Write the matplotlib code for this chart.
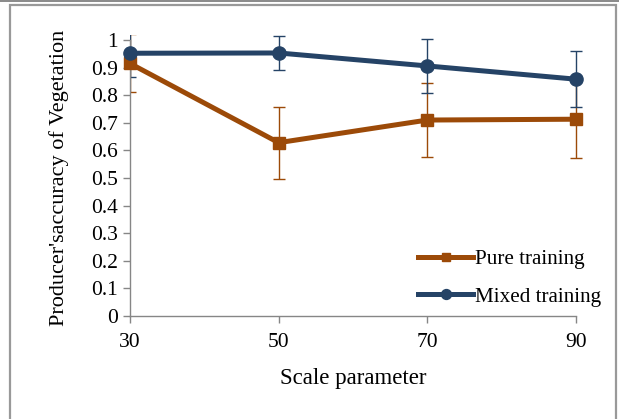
import matplotlib
matplotlib.use("Agg")
import matplotlib.pyplot as plt
from matplotlib.patches import Rectangle
from matplotlib.ticker import FormatStrFormatter

############################################################
# data
scale = [30, 50, 70, 90]

pure = [0.915, 0.628, 0.710, 0.713]
pure_err = [0.105, 0.131, 0.133, 0.142]

mixed = [0.952, 0.953, 0.906, 0.858]
mixed_err = [0.086, 0.062, 0.097, 0.102]

y_ticks = [0, 0.1, 0.2, 0.3, 0.4, 0.5, 0.6, 0.7, 0.8, 0.9, 1]

ORANGE = '#9c4a08'
BLUE = '#254366'
GRAY = '#868686'

############################################################
plt.rcParams['font.family'] = ['Liberation Serif', 'DejaVu Serif']

fig = plt.figure(figsize=(6.19, 4.19), dpi=100)
W, H = 619, 419

#outer frame of the chart area (pixel coords)
def px_rect(x, y, w, h, **kw):
    r = Rectangle((x / W, 1 - (y + h) / H), w / W, h / H,
                  transform=fig.transFigure, **kw)
    fig.patches.append(r)

px_rect(0, 0, W, 2.5, facecolor='#8c8c8c', edgecolor='none')
px_rect(10, 5, 606, 420, facecolor='none', edgecolor='#999999', linewidth=1.6)

ax = fig.add_axes([130 / W, 1 - 316 / H, (576 - 130) / W, (316 - 40) / H])

#plot area of excel reaches a bit above 1, error bars are clipped to it
clip = Rectangle((0, 0), 1.1, 1.017, transform=ax.transAxes,
                 facecolor='none', edgecolor='none')

#error bars first, lines on top
for vals, errs, col in [(pure, pure_err, ORANGE), (mixed, mixed_err, BLUE)]:
    eb = ax.errorbar(scale, vals, yerr=errs, fmt='none', ecolor=col,
                     elinewidth=1.0, capsize=4.5, capthick=1.0)
    for art in eb.lines[1] + eb.lines[2]:
        art.set_clip_path(clip)

ax.plot(scale, pure, color=ORANGE, lw=3.6, marker='s', ms=8.5,
        label='Pure training', clip_on=False, zorder=3)
ax.plot(scale, mixed, color=BLUE, lw=3.6, marker='o', ms=9.5,
        label='Mixed training', clip_on=False, zorder=4)

ax.set_xlim(30, 90)
ax.set_ylim(0, 1)
ax.set_xticks(scale)
ax.set_yticks(y_ticks)
ax.yaxis.set_major_formatter(FormatStrFormatter('%g'))

for s in ['top', 'right']:
    ax.spines[s].set_visible(False)
for s in ['left', 'bottom']:
    ax.spines[s].set_color(GRAY)
    ax.spines[s].set_linewidth(1.0)
ax.tick_params(colors=GRAY, labelcolor='black', labelsize=15.5, length=5,
               width=1.0)
ax.tick_params(axis='x', pad=7)

ax.set_xlabel('Scale parameter', fontsize=16.5, labelpad=12)
ax.set_ylabel("Producer'saccuracy of Vegetation", fontsize=16, labelpad=16)

leg = ax.legend(loc='lower right', bbox_to_anchor=(1.10, -0.035),
                frameon=False, fontsize=15.2, handlelength=2.6,
                handletextpad=0.1, labelspacing=0.85, markerscale=0.75)

fig.savefig('out.png', dpi=100)
